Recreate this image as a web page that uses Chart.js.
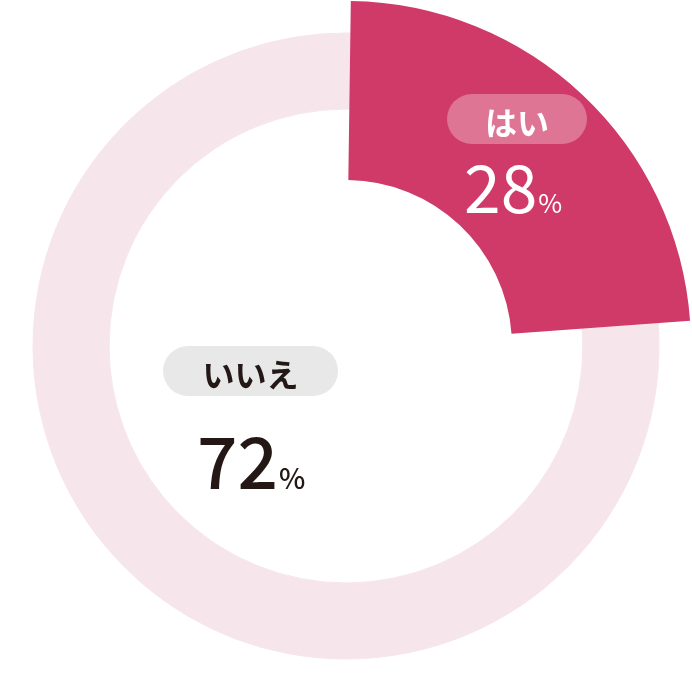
<!DOCTYPE html>
<html>
<head>
<meta charset="utf-8">
<script src="https://cdn.jsdelivr.net/npm/chart.js@4.4.1/dist/chart.umd.min.js"></script>
<style>
  html, body { margin: 0; padding: 0; background: #fff; }
  #wrap { position: relative; width: 692px; height: 692px; overflow: hidden;
          font-family: "Noto Sans CJK JP", "Noto Sans", sans-serif; }
  #wrap canvas { position: absolute; left: 0; top: 0; }
  .pill { position: absolute; height: 50px; border-radius: 25px; box-sizing: border-box;
          display: flex; align-items: center; justify-content: center;
          font-size: 32px; font-weight: 700; line-height: 1; padding-top: 4px; }
  .val { position: absolute; line-height: 1; white-space: nowrap; }
  .val .pct { margin-left: 1px; }
  #pill0 { left: 447px; top: 94px; width: 140px; background: rgba(255,255,255,0.3); color: #fff; }
  #pill1 { left: 163px; top: 346px; width: 175px; background: #e8e8e8; color: #231815; }
  #val0 { left: 464px; top: 151px; color: #fff; font-size: 66px; font-weight: 400; }
  #val0 .pct { font-size: 26px; }
  #val1 { left: 197px; top: 423px; color: #231815; font-size: 71px; font-weight: 500; }
  #val1 .pct { font-size: 28px; }
</style>
</head>
<body>
<div id="wrap">
  <canvas id="ringTrack" width="692" height="692"></canvas>
  <canvas id="ringYes" width="692" height="692"></canvas>
</div>
<script>
var answers = ['はい', 'いいえ'];
var shares = [28, 72];

var crimson = '#d03a68';
var blush = '#f6e6ec';

// the drawn "はい" slice sweeps ~85deg for its 28%, so the sweep is stretched to match
var yesSweep = 303.6;

// light track ring (いいえ)
new Chart(document.getElementById('ringTrack'), {
  type: 'doughnut',
  data: {
    labels: answers,
    datasets: [{
      data: shares,
      backgroundColor: [blush, blush],
      borderColor: blush,
      borderWidth: 1
    }]
  },
  options: {
    responsive: false,
    animation: false,
    radius: 313,
    cutout: '75.7%',
    plugins: { legend: { display: false }, tooltip: { enabled: false } }
  }
});

// wide crimson slice (はい)
new Chart(document.getElementById('ringYes'), {
  type: 'doughnut',
  data: {
    labels: answers,
    datasets: [{
      data: shares,
      backgroundColor: [crimson, 'rgba(0,0,0,0)'],
      borderWidth: 0
    }]
  },
  options: {
    responsive: false,
    animation: false,
    radius: 345,
    cutout: '48.1%',
    rotation: 0.8,
    circumference: yesSweep,
    plugins: { legend: { display: false }, tooltip: { enabled: false } }
  }
});

var wrap = document.getElementById('wrap');
for (var i = 0; i < answers.length; i++) {
  var pill = document.createElement('div');
  pill.className = 'pill';
  pill.id = 'pill' + i;
  pill.textContent = answers[i];
  wrap.appendChild(pill);

  var val = document.createElement('div');
  val.className = 'val';
  val.id = 'val' + i;
  val.innerHTML = '<span class="num">' + shares[i] + '</span><span class="pct">%</span>';
  wrap.appendChild(val);
}
</script>
</body>
</html>
